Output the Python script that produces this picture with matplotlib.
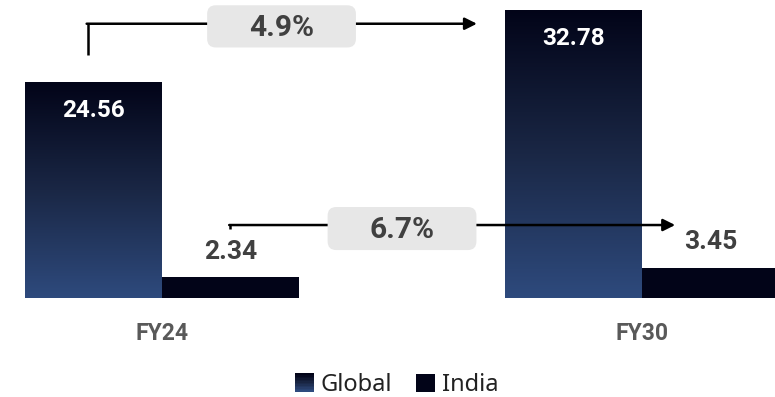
import matplotlib.pyplot as plt
import numpy as np
from matplotlib.colors import LinearSegmentedColormap
from matplotlib.patches import Rectangle, FancyBboxPatch
from matplotlib.legend_handler import HandlerPatch

# data
years = ['FY24', 'FY30']
global_vals = [24.56, 32.78]
india_vals = [2.34, 3.45]
cagr_labels = ['4.9%', '6.7%']

DARK = '#020418'
BLUE = '#2E4A7D'
GRAY = '#404040'
grad_cmap = LinearSegmentedColormap.from_list('bar_grad', [BLUE, '#1A2745', DARK])

plt.rcParams['font.family'] = ['Roboto', 'DejaVu Sans']

fig = plt.figure(figsize=(7.75, 3.97), dpi=100)
ax = fig.add_axes([0, 0.2494, 1, 0.7506])

x = np.arange(len(years))
bar_width = 0.285

g_bars = ax.bar(x - bar_width / 2, global_vals, bar_width, color='none', label='Global')
i_bars = ax.bar(x + bar_width / 2, india_vals, bar_width, color=DARK, label='India')

# vertical gradient inside global bars
grad = np.linspace(0, 1, 256).reshape(-1, 1)
for bar in g_bars:
    x0, w, h = bar.get_x(), bar.get_width(), bar.get_height()
    im = ax.imshow(grad, cmap=grad_cmap, aspect='auto', origin='lower',
                   extent=[x0, x0 + w, 0, h], zorder=2)
    im.set_clip_path(bar)

ax.set_xlim(-0.3375, 1.277)
ax.set_ylim(0, 33.9)

# value labels
for bar, v in zip(g_bars, global_vals):
    ax.text(bar.get_x() + bar.get_width() / 2, v - 3.25, f'{v:.2f}', ha='center', va='center',
            color='white', fontsize=17.5, fontweight='bold', zorder=4)
for bar, v in zip(i_bars, india_vals):
    ax.text(bar.get_x() + bar.get_width() / 2, v + 2.9, f'{v:.2f}', ha='center', va='center',
            color=GRAY, fontsize=19, fontweight='bold', zorder=4)

# CAGR arrows
arrow_kw = dict(arrowstyle='-|>', color='black', lw=1.8, mutation_scale=18, shrinkA=0, shrinkB=0)
ax.plot([-0.155, -0.155], [27.6, 31.2], color='black', lw=1.8, zorder=5, solid_capstyle='butt')
ax.annotate('', xy=(0.656, 31.2), xytext=(-0.155 - 0.002, 31.2), arrowprops=arrow_kw, zorder=5)
ax.plot([0.142, 0.142], [7.85, 8.3], color='black', lw=1.8, zorder=5, solid_capstyle='butt')
ax.annotate('', xy=(1.069, 8.3), xytext=(0.142 - 0.002, 8.3), arrowprops=arrow_kw, zorder=5)

# pixel/data aspect for rounded boxes
px_x = 480.0
px_y = 8.79
for (cx, cy, bw, bh), lab in zip([(0.249, 30.9, 0.31, 4.8), (0.5, 7.9, 0.31, 4.9)], cagr_labels):
    box = FancyBboxPatch((cx - bw / 2, cy - bh / 2), bw, bh,
                         boxstyle='round,pad=0,rounding_size=0.018', mutation_aspect=px_x / px_y,
                         facecolor='#E7E7E7', edgecolor='none', zorder=6)
    ax.add_patch(box)
    ax.text(cx, cy - 0.15, lab, ha='center', va='center', color=GRAY, fontsize=21.5,
            fontweight='bold', zorder=7)

ax.set_xticks(x, years)
ax.tick_params(axis='x', length=0, pad=17, labelsize=16.5, labelcolor='#595959')
for t in ax.get_xticklabels():
    t.set_fontweight('bold')
ax.set_yticks([])
for s in ax.spines.values():
    s.set_visible(False)


class GradientHandler(HandlerPatch):
    def create_artists(self, legend, orig_handle, xdescent, ydescent, width, height, fontsize, trans):
        n = 12
        arts = []
        for k in range(n):
            r = Rectangle((-xdescent, -ydescent + height * k / n), width, height / n + 0.3,
                          facecolor=grad_cmap(k / (n - 1)), edgecolor='none', transform=trans)
            arts.append(r)
        return arts


leg = fig.legend(handles=[g_bars, i_bars], labels=['Global', 'India'],
                 loc='center', bbox_to_anchor=(0.512, 0.03), ncol=2, frameon=False,
                 handlelength=0.8, handleheight=0.8, handletextpad=0.3, columnspacing=1.0,
                 prop={'family': 'Noto Sans', 'size': 17},
                 handler_map={g_bars: GradientHandler()})
for t in leg.get_texts():
    t.set_color('#222222')

fig.savefig('out.png', dpi=100)
